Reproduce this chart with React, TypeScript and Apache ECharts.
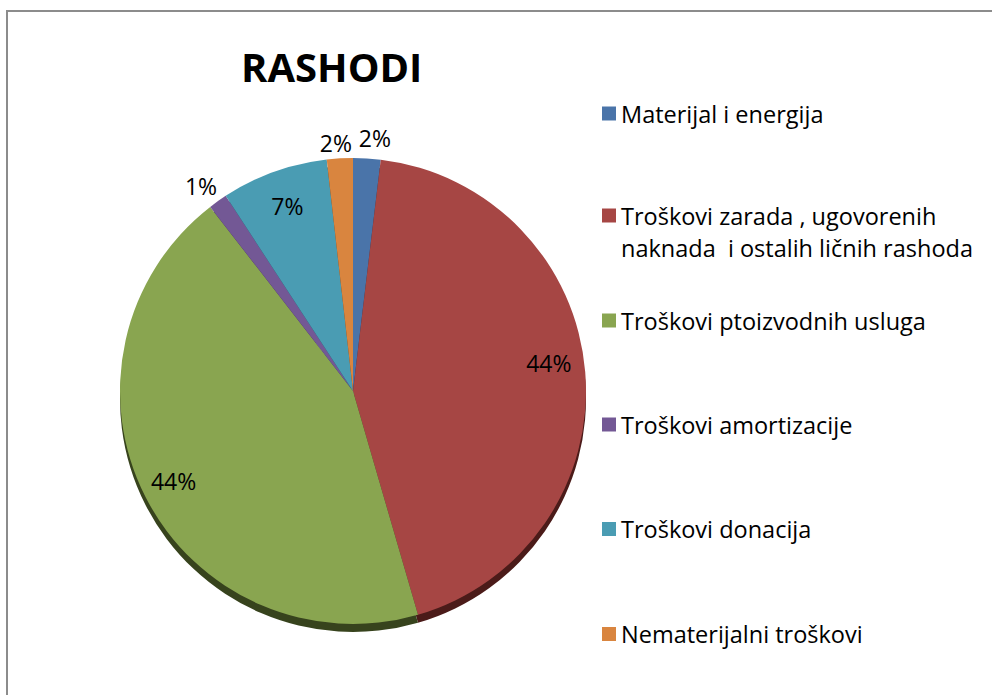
import React, { useEffect, useRef } from "react";
import * as echarts from "echarts";

// ---- data ----
const titleText = "RASHODI";
const categories = [
  "Materijal i energija",
  "Troškovi zarada , ugovorenih naknada  i ostalih ličnih rashoda",
  "Troškovi ptoizvodnih usluga",
  "Troškovi amortizacije",
  "Troškovi donacija",
  "Nematerijalni troškovi",
];
const legendLines = [
  ["Materijal i energija"],
  ["Troškovi zarada , ugovorenih", "naknada  i ostalih ličnih rashoda"],
  ["Troškovi ptoizvodnih usluga"],
  ["Troškovi amortizacije"],
  ["Troškovi donacija"],
  ["Nematerijalni troškovi"],
];
const values = [1.9, 43.6, 44.0, 1.3, 7.4, 1.8];

// ---- styles / layout ----
const colors = ["#4A74A9", "#A64644", "#89A550", "#735895", "#4A9CB3", "#D9853F"];
const sideColors = ["#223A57", "#4B1B19", "#37431D", "#3A2B4D", "#20505E", "#6E3E16"];
const labelInside = [false, true, true, false, true, false];
const labelOffsets = [
  [-9, -5],
  [-6, -11],
  [1, -2],
  [8, -3],
  [3, 6],
  [13, 0],
];
const legendCenters = [113.5, 215.5, 320.5, 424.5, 529, 634];
const FONT = "'Open Sans', 'Noto Sans', sans-serif";
const CX = 353;
const CY = 391;
const R = 233;

export default function App() {
  const ref = useRef<HTMLDivElement>(null);

  useEffect(() => {
    if (!ref.current) return;
    const chart = echarts.init(ref.current, undefined, { renderer: "svg" });

    const mainData = categories.map((name, i) => ({
      name,
      value: values[i],
      itemStyle: { color: colors[i] },
    }));
    const sideData = categories.map((name, i) => ({
      name,
      value: values[i],
      itemStyle: { color: sideColors[i] },
    }));
    const labelData = categories.map((name, i) => ({
      name,
      value: values[i],
      itemStyle: { color: "rgba(0,0,0,0)" },
      label: { position: labelInside[i] ? "inside" : "outside" },
    }));

    const legends = categories.map((name, i) => {
      const lines = legendLines[i];
      const multi = lines.length > 1;
      const lh = multi ? 32 : 30;
      const height = multi ? lh * (lines.length + 1) : lh;
      return {
        left: 602,
        top: legendCenters[i] - height / 2,
        orient: "vertical",
        padding: 0,
        itemWidth: 14,
        itemHeight: 14,
        icon: "rect",
        selectedMode: false,
        data: [name],
        formatter: () => (multi ? "\n" + lines.join("\n") : lines[0]),
        textStyle: {
          fontFamily: FONT,
          fontSize: 23.5,
          color: "#000",
          lineHeight: lh,
        },
      };
    });

    chart.setOption({
      animation: false,
      backgroundColor: "#fff",
      title: {
        text: titleText,
        left: 241,
        top: 46,
        padding: 0,
        textStyle: {
          fontFamily: FONT,
          fontWeight: "bold",
          fontSize: 40,
          lineHeight: 40,
          color: "#000",
        },
      },
      legend: legends,
      graphic: [
        {
          type: "rect",
          silent: true,
          shape: { x: 7, y: 11, width: 1000, height: 800 },
          style: { fill: "none", stroke: "#8C8C8C", lineWidth: 2 },
          z: -1,
        },
      ],
      series: [
        {
          type: "pie",
          name: "main",
          center: [CX, CY],
          radius: R,
          startAngle: 90,
          clockwise: true,
          silent: true,
          z: 3,
          label: { show: false },
          labelLine: { show: false },
          itemStyle: { borderWidth: 0 },
          emphasis: { disabled: true },
          data: mainData,
        },
        {
          type: "pie",
          name: "side",
          center: [CX, CY + 8],
          radius: R,
          startAngle: 90,
          clockwise: true,
          silent: true,
          z: 1,
          label: { show: false },
          labelLine: { show: false },
          itemStyle: { borderWidth: 0 },
          emphasis: { disabled: true },
          data: sideData,
        },
        {
          type: "pie",
          name: "labels",
          center: [CX, CY],
          radius: [166, R],
          startAngle: 90,
          clockwise: true,
          silent: true,
          z: 4,
          percentPrecision: 0,
          avoidLabelOverlap: false,
          itemStyle: { borderWidth: 0 },
          emphasis: { disabled: true },
          label: {
            show: true,
            formatter: "{d}%",
            fontFamily: FONT,
            fontSize: 23,
            color: "#000",
            distanceToLabelLine: 0,
          },
          labelLine: { show: false, length: 15, length2: 0 },
          labelLayout: (params: any) => {
            const o = labelOffsets[params.dataIndex] || [0, 0];
            return { dx: o[0], dy: o[1] };
          },
          data: labelData,
        },
      ],
    });

    return () => chart.dispose();
  }, []);

  return (
    <div
      ref={ref}
      style={{ position: "absolute", left: 0, top: 0, width: 992, height: 695 }}
    />
  );
}
